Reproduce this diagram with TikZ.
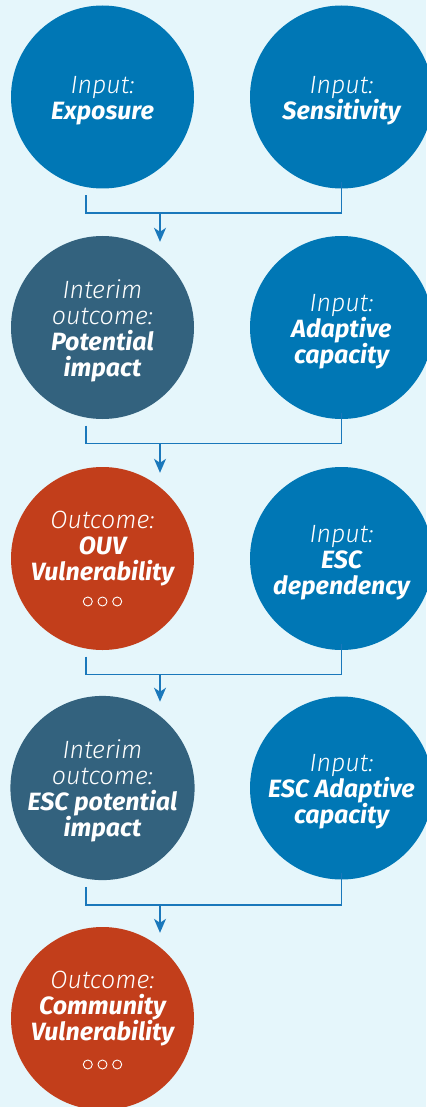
\documentclass[tikz,border=0pt]{standalone}
\usepackage{fontspec}
\setmainfont{Fira Sans}[ItalicFont={Fira Sans Light Italic},BoldItalicFont={Fira Sans Bold Italic}]
\usetikzlibrary{arrows.meta}
\definecolor{bgc}{HTML}{E5F6FB}
\definecolor{cblue}{HTML}{0077B5}
\definecolor{cdark}{HTML}{33627E}
\definecolor{cred}{HTML}{C23E1B}
\definecolor{cline}{HTML}{1A78BB}
\newcommand{\fst}{\rule{0pt}{25pt}}
\begin{document}
\begin{tikzpicture}[x=1pt,y=-1pt,
  circ/.style={circle, minimum size=183pt, inner sep=0pt, text=white, align=center,
    font=\fontsize{25}{26}\selectfont\itshape},
  inp/.style={circ, fill=cblue},
  interim/.style={circ, fill=cdark},
  outc/.style={circ, fill=cred},
  conn/.style={draw=cline, line width=1.5pt},
  arr/.style={conn, -{Stealth[length=14pt,width=12pt,inset=4pt]}},
  dot/.style={draw=white, line width=0.9pt}]
\fill[bgc] (0,0) rectangle (426,1107);
\useasboundingbox (0,0) rectangle (426,1107);
% row 1
\node[inp] (exp) at (102.5,97) {\fst Input:\\\bfseries Exposure};
\node[inp] (sen) at (341.5,97) {\fst Input:\\\bfseries Sensitivity};
% row 2
\node[interim] (pot) at (102.5,327.5) {\fst Interim\\outcome:\\\bfseries Potential\\\bfseries impact};
\node[inp] (ada) at (341.5,327.5) {\fst Input:\\\bfseries Adaptive\\\bfseries capacity};
% row 3
\node[outc] (ouv) at (102.5,558.5) {Outcome:\\\bfseries OUV\\\bfseries Vulnerability\\\mbox{}};
\node[inp] (dep) at (341.5,558.5) {\fst Input:\\\bfseries ESC\\\bfseries dependency};
% row 4
\node[interim] (escp) at (102.5,788) {\fst Interim\\outcome:\\\bfseries ESC potential\\\bfseries impact};
\node[inp] (esca) at (341.5,788) {\fst Input:\\\bfseries ESC Adaptive\\\bfseries capacity};
% row 5
\node[outc] (com) at (102.5,1018.5) {Outcome:\\\bfseries Community\\\bfseries Vulnerability\\\mbox{}};
% dots
\foreach \dx in {-14.7,0,14.7} {
  \draw[dot] ([shift={(\dx,43)}]ouv.center) circle (4.5);
  \draw[dot] ([shift={(\dx,46)}]com.center) circle (4.5);
}
% brackets and arrows
\draw[conn] ([shift={(-16.5,6.5)}]exp.south) -- ++(0,18) -| ([yshift=6.5]sen.south);
\draw[arr] ([shift={(57.5,24.5)}]exp.south) -- ([shift={(57.5,6)}]pot.north);
\draw[conn] ([shift={(-16.5,6.5)}]pot.south) -- ++(0,18) -| ([yshift=6.5]ada.south);
\draw[arr] ([shift={(57.5,24.5)}]pot.south) -- ([shift={(57.5,6)}]ouv.north);
\draw[conn] ([shift={(-16.5,6.5)}]ouv.south) -- ++(0,18) -| ([yshift=6.5]dep.south);
\draw[arr] ([shift={(57.5,24.5)}]ouv.south) -- ([shift={(57.5,6)}]escp.north);
\draw[conn] ([shift={(-16.5,6.5)}]escp.south) -- ++(0,18) -| ([yshift=6.5]esca.south);
\draw[arr] ([shift={(57.5,24.5)}]escp.south) -- ([shift={(57.5,6)}]com.north);
\end{tikzpicture}
\end{document}
